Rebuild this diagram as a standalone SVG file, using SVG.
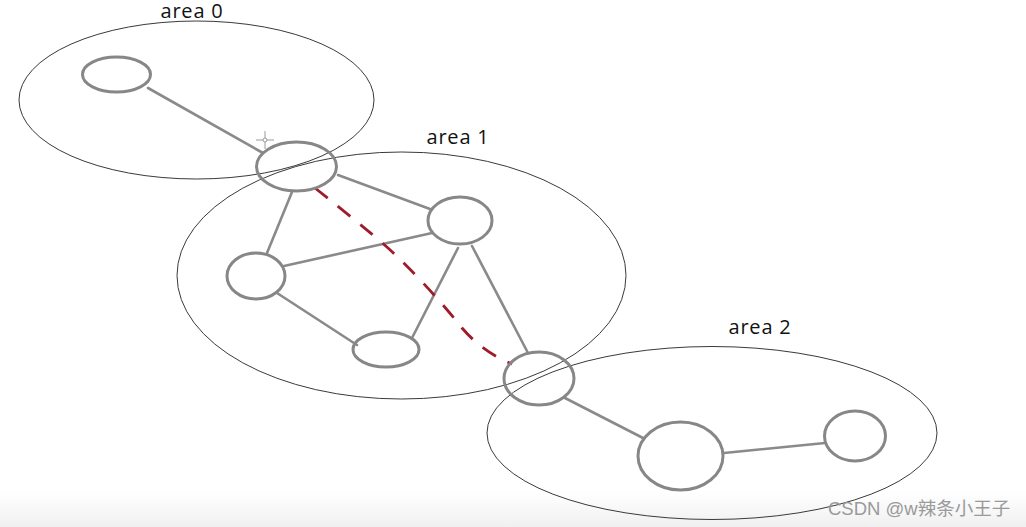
<svg xmlns="http://www.w3.org/2000/svg" width="1026" height="527" viewBox="0 0 1026 527">
<defs>
<linearGradient id="bottomFade" x1="0" y1="0" x2="0" y2="1">
<stop offset="0" stop-color="#ffffff"/>
<stop offset="1" stop-color="#f0f0f0"/>
</linearGradient>
</defs>
<style>
.area{fill:none;stroke:#3a3a3a;stroke-width:1}
.node{fill:none;stroke:#878787;stroke-width:3}
.link{stroke:#8a8a8a;stroke-width:2.6;fill:none;stroke-linecap:round}
.virtual{stroke:#9e1b2a;stroke-width:2.8;fill:none;stroke-dasharray:16 13}
.label{font-family:"Open Sans","Liberation Sans",sans-serif;font-size:20px;letter-spacing:0.8px;fill:#111111}
.wm{font-family:"Liberation Sans","Noto Sans CJK SC",sans-serif;font-size:18.5px;fill:#9a9a9a}
</style>
<rect x="0" y="0" width="1026" height="527" fill="#ffffff"/>
<rect x="0" y="492" width="1026" height="35" fill="url(#bottomFade)"/>
<g id="areas">
<ellipse class="area" cx="196.5" cy="100" rx="177.5" ry="79"/>
<ellipse class="area" cx="401.5" cy="275.5" rx="224.5" ry="123.5"/>
<ellipse class="area" cx="712" cy="433" rx="225" ry="86.5"/>
</g>
<g id="labels">
<text class="label" x="192" y="18" text-anchor="middle">area 0</text>
<text class="label" x="458" y="144" text-anchor="middle">area 1</text>
<text class="label" x="760" y="334" text-anchor="middle">area 2</text>
</g>
<g id="connectors">
<line class="link" x1="148" y1="88" x2="263" y2="153"/>
<line class="link" x1="338" y1="175" x2="430" y2="209"/>
<line class="link" x1="292" y1="192" x2="267" y2="253"/>
<line class="link" x1="284" y1="266" x2="432" y2="233"/>
<line class="link" x1="277" y1="293" x2="357" y2="345"/>
<line class="link" x1="412" y1="338" x2="458" y2="248"/>
<line class="link" x1="472" y1="246" x2="528" y2="353"/>
<line class="link" x1="565" y1="398" x2="643" y2="438"/>
<line class="link" x1="724" y1="453" x2="825" y2="443"/>
<path class="virtual" d="M315,188 C345,212 370,232 388,248 C410,268 440,300 462,328 C475,343 490,355 512,364"/>
</g>
<g id="node-a0"><ellipse class="node" cx="116.5" cy="74.5" rx="34" ry="17.5"/></g>
<g id="node-abr1"><ellipse class="node" cx="296.5" cy="166.5" rx="40" ry="24.5"/></g>
<g id="node-b"><ellipse class="node" cx="460" cy="220.5" rx="32" ry="23.5"/></g>
<g id="node-c"><ellipse class="node" cx="256" cy="276" rx="29" ry="23"/></g>
<g id="node-d"><ellipse class="node" cx="386" cy="349.5" rx="33" ry="17.5"/></g>
<g id="node-abr2"><ellipse class="node" cx="539" cy="378.5" rx="35" ry="26.5"/></g>
<g id="node-f"><ellipse class="node" cx="680.5" cy="456" rx="42.5" ry="34"/></g>
<g id="node-g"><ellipse class="node" cx="855" cy="436" rx="30.5" ry="25"/></g>
<g id="cursor" stroke="#9a9a9a" stroke-width="1" fill="none">
<line x1="265" y1="131" x2="265" y2="149"/>
<line x1="256" y1="140" x2="274" y2="140"/>
<circle cx="265" cy="140" r="2" fill="#ffffff"/>
</g>
<text class="wm" x="828" y="515">CSDN @w辣条小王子</text>
</svg>
